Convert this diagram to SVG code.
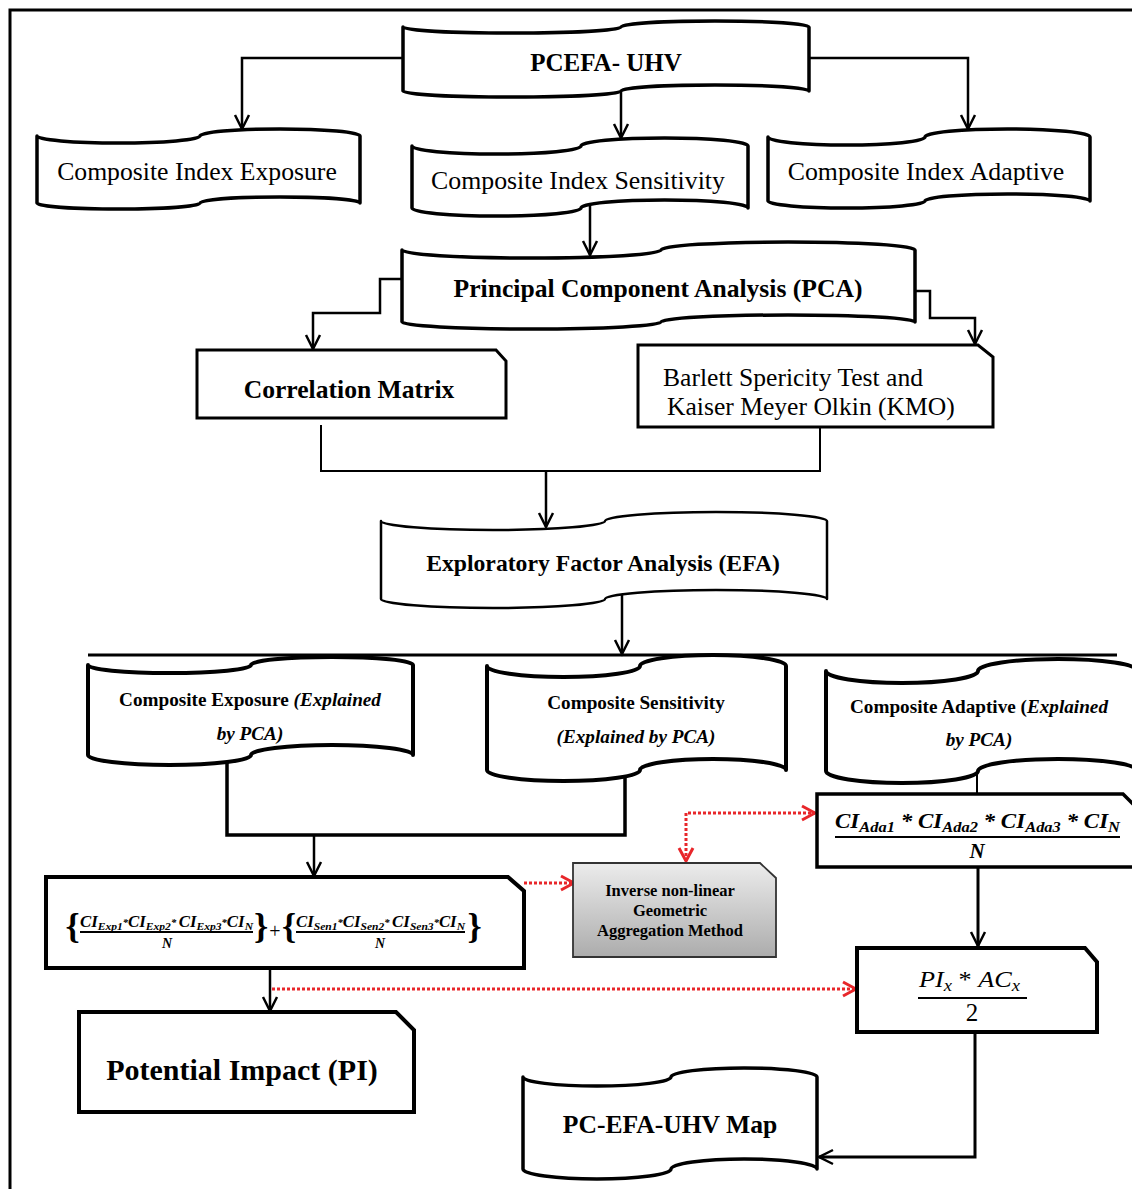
<svg xmlns="http://www.w3.org/2000/svg" width="1132" height="1189" viewBox="0 0 1132 1189">
<style>
.t{font-family:"Liberation Serif","Times New Roman",serif;fill:#000}
.b{font-weight:bold}
.i{font-style:italic}
.tape{fill:#fff;stroke:#000;stroke-width:3.5;stroke-linejoin:round}
.box{fill:#fff;stroke:#000;stroke-width:3.5;stroke-linejoin:miter}
.c{fill:none;stroke:#000;stroke-width:2.5}
.r{fill:none;stroke:#e8262a;stroke-width:3;stroke-dasharray:3 2}
.bar{stroke:#000;stroke-width:2}
</style>
<defs>
<marker id="ah" markerUnits="userSpaceOnUse" markerWidth="18" markerHeight="18" viewBox="0 0 18 18" refX="15" refY="9" orient="auto">
<path d="M1,2 L15,9 L1,16" fill="none" stroke="#000" stroke-width="2.5"/>
</marker>
<marker id="rh" markerUnits="userSpaceOnUse" markerWidth="18" markerHeight="18" viewBox="0 0 18 18" refX="15" refY="9" orient="auto-start-reverse">
<path d="M2,2 L15,9 L2,16" fill="none" stroke="#e8262a" stroke-width="3"/>
</marker>
<linearGradient id="gr" x1="0" y1="0" x2="0" y2="1">
<stop offset="0" stop-color="#ececec"/>
<stop offset="1" stop-color="#acacac"/>
</linearGradient>
</defs>

<path d="M10,1189 V10 H1132" fill="none" stroke="#000" stroke-width="3"/>

<g id="connectors">
<path class="c" d="M403,58 H242 V129" marker-end="url(#ah)"/>
<path class="c" d="M621,91 V138" marker-end="url(#ah)"/>
<path class="c" d="M809,58 H968 V129" marker-end="url(#ah)"/>
<path class="c" d="M590,205 V255" marker-end="url(#ah)"/>
<path class="c" d="M402,279 H380 V313 H313 V349" marker-end="url(#ah)"/>
<path class="c" d="M915,291 H930 V318 H975 V344" marker-end="url(#ah)"/>
<path class="c" style="stroke-width:2" d="M321,425 V471 H820 V427"/>
<path class="c" d="M546,471 V527" marker-end="url(#ah)"/>
<path class="c" d="M622,594 V654" marker-end="url(#ah)"/>
<path class="c" style="stroke-width:3" d="M88,655 H1117"/>
<path class="c" style="stroke-width:3.5" d="M227,763 V835 H625 V777"/>
<path class="c" d="M314,835 V876" marker-end="url(#ah)"/>
<path class="c" d="M270,968 V1011" marker-end="url(#ah)"/>
<path class="c" style="stroke-width:2" d="M977,766 V794"/>
<path class="c" style="stroke-width:3" d="M978,867 V946" marker-end="url(#ah)"/>
<path class="c" style="stroke-width:3" d="M975,1032 V1157 H819" marker-end="url(#ah)"/>
<path class="r" d="M524,883 H574" marker-end="url(#rh)"/>
<path class="r" d="M686,861 V813 H815" marker-start="url(#rh)" marker-end="url(#rh)"/>
<path class="r" d="M272,989 H856" marker-end="url(#rh)"/>
</g>

<g id="pcefa">
<path class="tape" d="M403,27 A109,6 0 0 0 621,27 A94,6 0 0 1 809,27 L809,91 A94,6 0 0 0 621,91 A109,6 0 0 1 403,91 Z"/>
<text class="t b" x="606" y="71" font-size="25" text-anchor="middle">PCEFA- UHV</text>
</g>

<g id="ci-exposure">
<path class="tape" d="M37,136 A81.5,7 0 0 0 200,136 A80,7 0 0 1 360,136 L360,203 A80,6 0 0 0 200,203 A81.5,6 0 0 1 37,203 Z"/>
<text class="t" x="197" y="180" font-size="25.7" text-anchor="middle">Composite Index Exposure</text>
</g>

<g id="ci-sensitivity">
<path class="tape" d="M412,146 A84.5,8 0 0 0 581,146 A83.5,8 0 0 1 748,146 L748,208 A83.5,8 0 0 0 581,208 A84.5,8 0 0 1 412,208 Z"/>
<text class="t" x="578" y="189" font-size="25.8" text-anchor="middle">Composite Index Sensitivity</text>
</g>

<g id="ci-adaptive">
<path class="tape" d="M768,137 A78.5,8 0 0 0 925,137 A82.5,8 0 0 1 1090,137 L1090,201 A82.5,7 0 0 0 925,201 A78.5,7 0 0 1 768,201 Z"/>
<text class="t" x="926" y="180" font-size="25.8" text-anchor="middle">Composite Index Adaptive</text>
</g>

<g id="pca">
<path class="tape" d="M402,250 A129.5,8 0 0 0 661,250 A127,8 0 0 1 915,250 L915,322 A127,7 0 0 0 661,322 A129.5,7 0 0 1 402,322 Z"/>
<text class="t b" x="658" y="297" font-size="25.6" text-anchor="middle">Principal Component Analysis (PCA)</text>
</g>

<g id="correlation">
<path class="box" style="stroke-width:3" d="M197,350 H496 L506,361 V418 H197 Z"/>
<text class="t b" x="349" y="398" font-size="25.6" text-anchor="middle">Correlation Matrix</text>
</g>

<g id="barlett">
<path class="box" style="stroke-width:3" d="M638,345 H978 L993,357 V427 H638 Z"/>
<text class="t" x="663" y="386" font-size="25.6">Barlett Spericity Test and</text>
<text class="t" x="667" y="415" font-size="25.6">Kaiser Meyer Olkin (KMO)</text>
</g>

<g id="efa">
<path class="tape" style="stroke-width:2.5" d="M381,521 A112,9 0 0 0 605,521 A111,9 0 0 1 827,521 L827,599 A111,9 0 0 0 605,599 A112,9 0 0 1 381,599 Z"/>
<text class="t b" x="603" y="571" font-size="23.7" text-anchor="middle">Exploratory Factor Analysis (EFA)</text>
</g>

<g id="comp-exposure">
<path class="tape" style="stroke-width:4" d="M88,665 A81.5,8 0 0 0 251,665 A81,8 0 0 1 413,665 L413,755 A81,10 0 0 0 251,755 A81.5,10 0 0 1 88,755 Z"/>
<text class="t b" x="250" y="706" font-size="19.2" text-anchor="middle">Composite Exposure <tspan class="i">(Explained</tspan></text>
<text class="t b i" x="250" y="740" font-size="19.2" text-anchor="middle">by PCA)</text>
</g>

<g id="comp-sensitivity">
<path class="tape" style="stroke-width:4" d="M487,666 A76.5,11 0 0 0 640,666 A73,11 0 0 1 786,666 L786,770 A73,11 0 0 0 640,770 A76.5,11 0 0 1 487,770 Z"/>
<text class="t b" x="636" y="709" font-size="19.2" text-anchor="middle">Composite Sensitivity</text>
<text class="t b i" x="636" y="743" font-size="19.2" text-anchor="middle">(Explained by PCA)</text>
</g>

<g id="comp-adaptive">
<path class="tape" style="stroke-width:4" d="M826,671 A76,12 0 0 0 978,671 A80,12 0 0 1 1138,671 L1138,771 A80,12 0 0 0 978,771 A76,12 0 0 1 826,771 Z"/>
<text class="t b" x="979" y="713" font-size="19.2" text-anchor="middle">Composite Adaptive (<tspan class="i">Explained</tspan></text>
<text class="t b i" x="979" y="746" font-size="19.2" text-anchor="middle">by PCA)</text>
</g>

<g id="formula-exp-sen">
<path class="box" style="stroke-width:4" d="M46,877 H508 L524,891 V968 H46 Z"/>
<text class="t b" x="72.5" y="938" font-size="36" text-anchor="middle">{</text>
<text class="t b i" x="80" y="927" font-size="16" textLength="173" lengthAdjust="spacingAndGlyphs">CI<tspan font-size="11" dy="3">Exp1</tspan><tspan font-size="10" dy="-4">*</tspan><tspan dy="1">CI</tspan><tspan font-size="11" dy="3">Exp2</tspan><tspan font-size="10" dy="-4">* </tspan><tspan dy="1">CI</tspan><tspan font-size="11" dy="3">Exp3</tspan><tspan font-size="10" dy="-4">*</tspan><tspan dy="1">CI</tspan><tspan font-size="11" dy="3">N</tspan></text>
<line class="bar" x1="80" y1="932" x2="253" y2="932"/>
<text class="t b i" x="167" y="948" font-size="14" text-anchor="middle">N</text>
<text class="t b" x="261" y="938" font-size="36" text-anchor="middle">}</text>
<text class="t" x="275" y="938" font-size="20" text-anchor="middle">+</text>
<text class="t b" x="289" y="938" font-size="36" text-anchor="middle">{</text>
<text class="t b i" x="296" y="927" font-size="16" textLength="169" lengthAdjust="spacingAndGlyphs">CI<tspan font-size="11" dy="3">Sen1</tspan><tspan font-size="10" dy="-4">*</tspan><tspan dy="1">CI</tspan><tspan font-size="11" dy="3">Sen2</tspan><tspan font-size="10" dy="-4">* </tspan><tspan dy="1">CI</tspan><tspan font-size="11" dy="3">Sen3</tspan><tspan font-size="10" dy="-4">*</tspan><tspan dy="1">CI</tspan><tspan font-size="11" dy="3">N</tspan></text>
<line class="bar" x1="296" y1="932" x2="465" y2="932"/>
<text class="t b i" x="380" y="948" font-size="14" text-anchor="middle">N</text>
<text class="t b" x="474.5" y="938" font-size="36" text-anchor="middle">}</text>
</g>

<g id="inverse">
<path d="M573,863 H760 L776,878 V957 H573 Z" fill="url(#gr)" stroke="#333" stroke-width="1.8"/>
<text class="t b" x="670" y="896" font-size="16.5" text-anchor="middle">Inverse non-linear</text>
<text class="t b" x="670" y="916" font-size="16.5" text-anchor="middle">Geometric</text>
<text class="t b" x="670" y="936" font-size="16.5" text-anchor="middle">Aggregation Method</text>
</g>

<g id="formula-ada">
<path class="box" d="M817,794 H1123 L1137,808 V867 H817 Z"/>
<text class="t b i" x="835" y="828" font-size="21" textLength="285" lengthAdjust="spacingAndGlyphs">CI<tspan font-size="15" dy="4">Ada1</tspan><tspan dy="-4"> * CI</tspan><tspan font-size="15" dy="4">Ada2</tspan><tspan dy="-4"> *  CI</tspan><tspan font-size="15" dy="4">Ada3</tspan><tspan dy="-4"> * CI</tspan><tspan font-size="15" dy="4">N</tspan></text>
<line class="bar" x1="835" y1="837" x2="1120" y2="837"/>
<text class="t b i" x="977" y="858" font-size="21" text-anchor="middle">N</text>
</g>

<g id="formula-piac">
<path class="box" style="stroke-width:4" d="M857,948 H1085 L1097,962 V1032 H857 Z"/>
<text class="t i" x="919" y="987" font-size="24" textLength="101" lengthAdjust="spacingAndGlyphs">PI<tspan font-size="17" dy="4">x</tspan><tspan dy="-4" font-style="normal"> * </tspan>AC<tspan font-size="17" dy="4">x</tspan></text>
<line class="bar" x1="918" y1="998" x2="1027" y2="998"/>
<text class="t" x="972" y="1021" font-size="25" text-anchor="middle">2</text>
</g>

<g id="potential-impact">
<path class="box" style="stroke-width:4" d="M79,1012 H396 L414,1030 V1112 H79 Z"/>
<text class="t b" x="242" y="1080" font-size="30" text-anchor="middle">Potential Impact (PI)</text>
</g>

<g id="map">
<path class="tape" d="M523,1077 A74,9 0 0 0 671,1077 A73,9 0 0 1 817,1077 L817,1169 A73,10 0 0 0 671,1169 A74,10 0 0 1 523,1169 Z"/>
<text class="t b" x="670" y="1133" font-size="25.6" text-anchor="middle">PC-EFA-UHV Map</text>
</g>
</svg>
